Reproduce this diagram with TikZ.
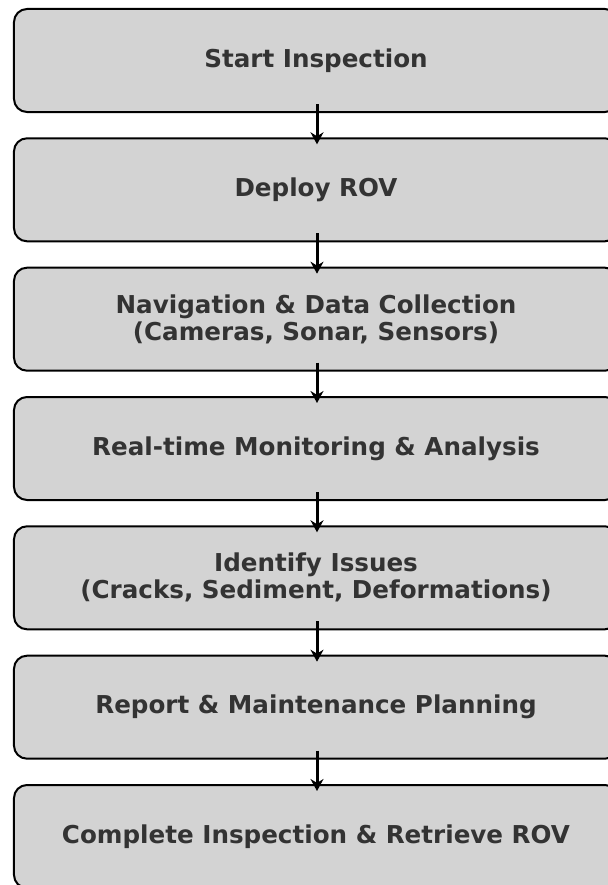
\documentclass[tikz,border=0pt]{standalone}
\usepackage{fontspec}
\setmainfont{DejaVu Sans}
\usetikzlibrary{arrows.meta}
\definecolor{boxfill}{HTML}{D3D3D3}
\definecolor{boxtext}{HTML}{333333}
\tikzset{
  stepbox/.style={draw=black, line width=2bp, fill=boxfill, rounded corners=13bp,
    minimum width=604bp, minimum height=103bp, align=center, text=boxtext,
    font=\fontsize{24.7}{27}\selectfont\bfseries},
  flow/.style={line width=3bp, -{Stealth[length=12bp,width=13bp]}}
}
\begin{document}
\begin{tikzpicture}[x=1bp,y=-1bp]
            \useasboundingbox (0,0) rectangle (608,885);
            
            % Drawing the seven steps
            \node [stepbox] (start) at (316,60.5) {Start Inspection};%
            \node [stepbox] (deploy) at (316,189.8) {Deploy ROV};%
            \node [stepbox] (navig) at (316,319.2) {Navigation \& Data Collection\\(Cameras, Sonar, Sensors)};%
            \node [stepbox] (monit) at (316,448.5) {Real-time Monitoring \& Analysis};%
            \node [stepbox] (issues) at (316,577.8) {Identify Issues\\(Cracks, Sediment, Deformations)};%
            \node [stepbox] (report) at (316,707.2) {Report \& Maintenance Planning};%
            \node [stepbox] (finish) at (316,836.5) {Complete Inspection \& Retrieve ROV};%
            
            % Drawing arrows between steps
            \draw [flow] ([xshift=1bp,yshift=9bp]start.south) -- ([xshift=1bp,yshift=-7bp]deploy.north);%
            \draw [flow] ([xshift=1bp,yshift=9bp]deploy.south) -- ([xshift=1bp,yshift=-7bp]navig.north);%
            \draw [flow] ([xshift=1bp,yshift=9bp]navig.south) -- ([xshift=1bp,yshift=-7bp]monit.north);%
            \draw [flow] ([xshift=1bp,yshift=9bp]monit.south) -- ([xshift=1bp,yshift=-7bp]issues.north);%
            \draw [flow] ([xshift=1bp,yshift=9bp]issues.south) -- ([xshift=1bp,yshift=-7bp]report.north);%
            \draw [flow] ([xshift=1bp,yshift=9bp]report.south) -- ([xshift=1bp,yshift=-7bp]finish.north);%
        \end{tikzpicture}
\end{document}
